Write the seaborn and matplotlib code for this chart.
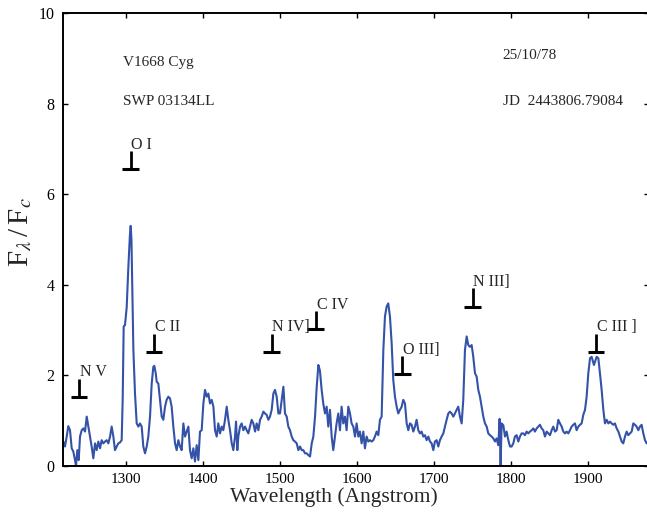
import matplotlib
matplotlib.use("Agg")
import matplotlib.pyplot as plt
import numpy as np
import pandas as pd
import seaborn as sns

# IUE spectrum of V1668 Cyg
wavelength = [
    1219.0, 1221.2, 1223.4, 1225.5, 1227.7, 1229.9, 1232.0, 1234.2, 1235.5, 1237.2,
    1239.0, 1240.7, 1242.9, 1245.0, 1247.2, 1249.4, 1251.5, 1253.7, 1255.8, 1258.0,
    1260.2, 1262.3, 1264.5, 1266.7, 1268.8, 1271.0, 1273.2, 1275.3, 1277.5, 1279.7,
    1281.8, 1284.0, 1286.1, 1288.3, 1290.5, 1292.6, 1294.8, 1296.1, 1297.4, 1299.1,
    1301.3, 1303.5, 1305.5, 1306.5, 1307.5, 1309.1, 1310.0, 1312.1, 1314.3, 1316.5,
    1318.6, 1320.8, 1322.9, 1325.1, 1327.3, 1329.4, 1331.6, 1333.8, 1335.9, 1337.2,
    1339.0, 1340.3, 1342.4, 1344.6, 1346.8, 1348.9, 1351.1, 1353.2, 1355.4, 1357.6,
    1359.7, 1361.9, 1364.1, 1366.2, 1368.4, 1370.6, 1372.7, 1374.9, 1377.1, 1379.2,
    1381.4, 1383.5, 1385.7, 1387.9, 1390.0, 1392.2, 1394.4, 1396.5, 1398.7, 1400.9,
    1403.0, 1405.2, 1407.4, 1409.5, 1411.7, 1413.9, 1416.0, 1418.2, 1420.3, 1422.5,
    1424.7, 1426.8, 1429.0, 1431.2, 1433.3, 1435.5, 1437.7, 1439.8, 1442.0, 1443.3,
    1445.0, 1446.3, 1448.5, 1450.6, 1452.8, 1455.0, 1457.1, 1459.3, 1461.5, 1463.6,
    1465.8, 1468.0, 1470.1, 1472.3, 1474.5, 1476.6, 1478.8, 1480.9, 1483.1, 1485.3,
    1487.4, 1489.6, 1491.8, 1493.9, 1496.1, 1498.3, 1500.4, 1502.6, 1504.8, 1506.9,
    1509.1, 1511.2, 1513.4, 1515.6, 1517.7, 1519.9, 1522.1, 1524.2, 1526.4, 1528.6,
    1530.7, 1532.9, 1535.1, 1537.2, 1539.4, 1541.6, 1543.7, 1545.9, 1548.1, 1550.2,
    1552.3, 1554.5, 1556.6, 1558.8, 1561.0, 1563.1, 1565.3, 1567.5, 1569.6, 1571.8,
    1573.9, 1576.1, 1578.3, 1580.4, 1582.6, 1584.8, 1586.9, 1589.1, 1591.3, 1593.4,
    1595.6, 1597.8, 1599.9, 1602.1, 1604.2, 1606.4, 1608.6, 1610.7, 1612.9, 1615.1,
    1617.2, 1619.4, 1621.6, 1623.7, 1625.9, 1628.1, 1630.2, 1632.4, 1634.6, 1636.7,
    1638.9, 1641.0, 1643.2, 1645.4, 1647.5, 1649.7, 1651.9, 1654.0, 1656.2, 1658.4,
    1660.5, 1662.7, 1664.9, 1667.0, 1669.2, 1671.3, 1673.5, 1675.7, 1677.8, 1680.0,
    1682.2, 1684.3, 1686.5, 1688.7, 1690.8, 1693.0, 1695.2, 1697.3, 1699.5, 1701.6,
    1703.8, 1706.0, 1708.1, 1710.3, 1712.5, 1714.6, 1716.8, 1719.0, 1721.1, 1723.3,
    1725.5, 1727.6, 1729.8, 1731.9, 1734.1, 1736.3, 1738.4, 1740.6, 1742.8, 1744.9,
    1747.1, 1749.3, 1751.4, 1753.6, 1755.8, 1757.9, 1760.1, 1762.3, 1764.4, 1766.6,
    1768.8, 1770.9, 1773.1, 1775.2, 1777.4, 1779.6, 1781.7, 1783.9, 1785.6, 1786.9,
    1788.2, 1790.4, 1792.6, 1794.7, 1796.9, 1799.1, 1801.2, 1803.4, 1805.5, 1807.7,
    1809.9, 1812.0, 1814.2, 1816.4, 1818.5, 1820.7, 1822.9, 1825.0, 1827.2, 1829.4,
    1831.5, 1833.7, 1835.8, 1838.0, 1840.2, 1842.3, 1844.5, 1846.7, 1848.8, 1851.0,
    1853.2, 1855.3, 1857.5, 1859.7, 1861.8, 1864.0, 1866.2, 1868.3, 1870.5, 1872.6,
    1874.8, 1877.0, 1879.1, 1881.3, 1883.5, 1885.6, 1887.8, 1890.0, 1892.1, 1894.3,
    1896.5, 1898.6, 1900.8, 1903.0, 1905.1, 1908.1, 1911.6, 1913.8, 1915.9, 1918.1,
    1920.3, 1922.4, 1924.6, 1926.8, 1928.9, 1931.1, 1933.3, 1935.4, 1937.6, 1939.8,
    1941.9, 1944.1, 1946.2, 1948.4, 1950.6, 1952.7, 1954.9, 1957.1, 1959.2, 1961.4,
    1963.5, 1965.7, 1967.9, 1970.0, 1972.2, 1974.4, 1976.5, 1979.5,
]
flux = [
    0.54, 0.43, 0.65, 0.88, 0.79, 0.39, 0.32, 0.13, 0.00, 0.35,
    0.13, 0.65, 0.79, 0.83, 0.76, 1.09, 0.87, 0.65, 0.43, 0.17,
    0.50, 0.35, 0.54, 0.39, 0.57, 0.50, 0.54, 0.57, 0.50, 0.65,
    0.87, 0.65, 0.35, 0.43, 0.50, 0.52, 0.57, 1.46, 3.08, 3.11,
    3.50, 4.40, 5.10, 5.30, 5.00, 3.44, 2.56, 1.60, 0.94, 0.87,
    0.94, 0.87, 0.43, 0.28, 0.43, 0.65, 1.09, 1.82, 2.19, 2.21,
    2.05, 1.86, 1.82, 1.46, 1.09, 1.02, 1.31, 1.46, 1.53, 1.49,
    1.31, 0.87, 0.50, 0.35, 0.57, 0.43, 0.35, 0.94, 0.65, 0.76,
    0.87, 0.35, 0.17, 0.39, 0.10, 0.46, 0.13, 0.76, 0.79, 1.38,
    1.68, 1.53, 1.60, 1.38, 1.46, 1.31, 0.79, 0.65, 0.94, 0.72,
    0.87, 0.79, 1.02, 1.31, 1.02, 0.79, 0.50, 0.35, 0.65, 0.98,
    0.35, 0.65, 0.87, 0.94, 0.79, 0.87, 0.79, 0.72, 0.87, 1.02,
    0.94, 0.76, 0.94, 0.79, 1.02, 1.09, 1.20, 1.16, 1.13, 1.02,
    1.09, 1.24, 1.60, 1.68, 1.53, 1.16, 1.16, 1.46, 1.75, 1.16,
    1.09, 0.87, 0.79, 0.65, 0.57, 0.54, 0.50, 0.35, 0.43, 0.35,
    0.35, 0.28, 0.28, 0.24, 0.21, 0.50, 0.65, 1.09, 1.75, 2.23,
    2.10, 1.68, 1.38, 1.16, 1.31, 0.87, 1.24, 0.65, 0.35, 0.65,
    0.94, 1.16, 0.79, 1.31, 0.94, 1.09, 0.79, 1.31, 1.16, 0.94,
    0.87, 0.65, 0.94, 0.65, 0.76, 0.50, 0.76, 0.39, 0.65, 0.54,
    0.57, 0.54, 0.57, 0.65, 0.76, 0.68, 1.02, 1.09, 2.56, 3.30,
    3.52, 3.59, 3.30, 2.71, 1.90, 1.53, 1.31, 1.16, 1.24, 1.31,
    1.46, 1.38, 0.94, 0.79, 0.94, 0.91, 0.76, 0.87, 1.02, 0.79,
    0.72, 0.76, 0.65, 0.68, 0.57, 0.65, 0.54, 0.50, 0.35, 0.54,
    0.57, 0.43, 0.57, 0.65, 0.72, 0.87, 1.02, 1.16, 1.20, 1.16,
    1.09, 1.16, 1.24, 1.31, 1.09, 0.94, 1.46, 2.56, 2.86, 2.67,
    2.63, 2.67, 2.41, 2.05, 1.97, 1.68, 1.53, 1.31, 1.09, 0.94,
    0.87, 0.72, 0.68, 0.65, 0.61, 0.54, 0.61, 0.46, 1.04, 0.00,
    0.94, 0.90, 0.65, 0.76, 0.57, 0.43, 0.43, 0.50, 0.65, 0.68,
    0.54, 0.65, 0.72, 0.72, 0.68, 0.76, 0.72, 0.76, 0.79, 0.83,
    0.76, 0.83, 0.87, 0.91, 0.83, 0.79, 0.65, 0.76, 0.72, 0.68,
    0.79, 0.87, 0.76, 0.79, 1.02, 0.94, 0.87, 0.76, 0.72, 0.76,
    0.72, 0.79, 0.87, 0.91, 0.94, 0.79, 0.87, 0.91, 0.94, 1.13,
    1.24, 1.53, 2.05, 2.38, 2.41, 2.23, 2.41, 2.38, 2.05, 1.68,
    1.24, 0.94, 1.02, 0.94, 0.98, 0.94, 0.91, 0.94, 0.83, 0.76,
    0.65, 0.54, 0.50, 0.65, 0.76, 0.68, 0.72, 0.76, 0.94, 0.91,
    0.87, 0.79, 0.87, 0.91, 0.72, 0.57, 0.50, 0.55,
]

# emission line identifications
line_names = ["N V", "O I", "C II", "N IV]", "C IV", "O III]", "N III]", "C III ]"]
line_wl = [1239.4, 1306.5, 1336.8, 1489.6, 1547.1, 1659.0, 1750.6, 1910.8]
line_base = [1.53, 6.55, 2.52, 2.52, 3.02, 2.03, 3.52, 2.52]

df = pd.DataFrame({"wavelength": wavelength, "flux": flux})

sns.set_style("ticks")
plt.rcParams["font.family"] = ["Liberation Serif", "DejaVu Serif"]
plt.rcParams["mathtext.fontset"] = "stix"

fig = plt.figure(figsize=(6.47, 5.2), dpi=100)
ax = fig.add_axes([63 / 647, 54 / 520, 586 / 647, 453 / 520])

sns.lineplot(data=df, x="wavelength", y="flux", ax=ax, color="#3352a8",
             linewidth=1.5, sort=False, estimator=None)

# line markers: stem with a bar at the bottom, label above
stem = 0.40
half = 11
ax.vlines(line_wl, line_base, [b + stem for b in line_base], color="black", lw=2.0)
ax.hlines(line_base, [w - half for w in line_wl], [w + half for w in line_wl],
          color="black", lw=2.2)
for name, w, b in zip(line_names, line_wl, line_base):
    ax.text(w + 1, b + stem + 0.05, name, fontsize=11.5, ha="left", va="baseline")

ax.text(1296, 8.82, "V1668 Cyg", fontsize=11, va="baseline")
ax.text(1296, 7.97, "SWP 03134LL", fontsize=11, va="baseline")
ax.text(1789.6, 8.98, "25/10/78", fontsize=11, va="baseline")
ax.text(1789.6, 7.98, "JD  2443806.79084", fontsize=11, va="baseline")

ax.set_xlim(1218.6, 1979.6)
ax.set_ylim(0, 10)
ax.set_xticks([1300, 1400, 1500, 1600, 1700, 1800, 1900])
ax.set_yticks([0, 2, 4, 6, 8, 10])
ax.tick_params(direction="in", length=3.5, width=1, top=True, right=True,
               colors="black", labelsize=11.5)
ax.tick_params(axis="x", labelsize=11, pad=5)
ax.tick_params(axis="y", pad=6)
for s in ax.spines.values():
    s.set_linewidth(1.4)
    s.set_color("black")

ax.set_xlabel("Wavelength (Angstrom)", fontsize=15.5)
ax.set_ylabel(r"F$_\lambda\,$/$\,$F$_c$", fontsize=21)
ax.xaxis.set_label_coords(0.4625, -0.046)
ax.yaxis.set_label_coords(-0.05, 0.517)

fig.savefig("out.png", dpi=100)
